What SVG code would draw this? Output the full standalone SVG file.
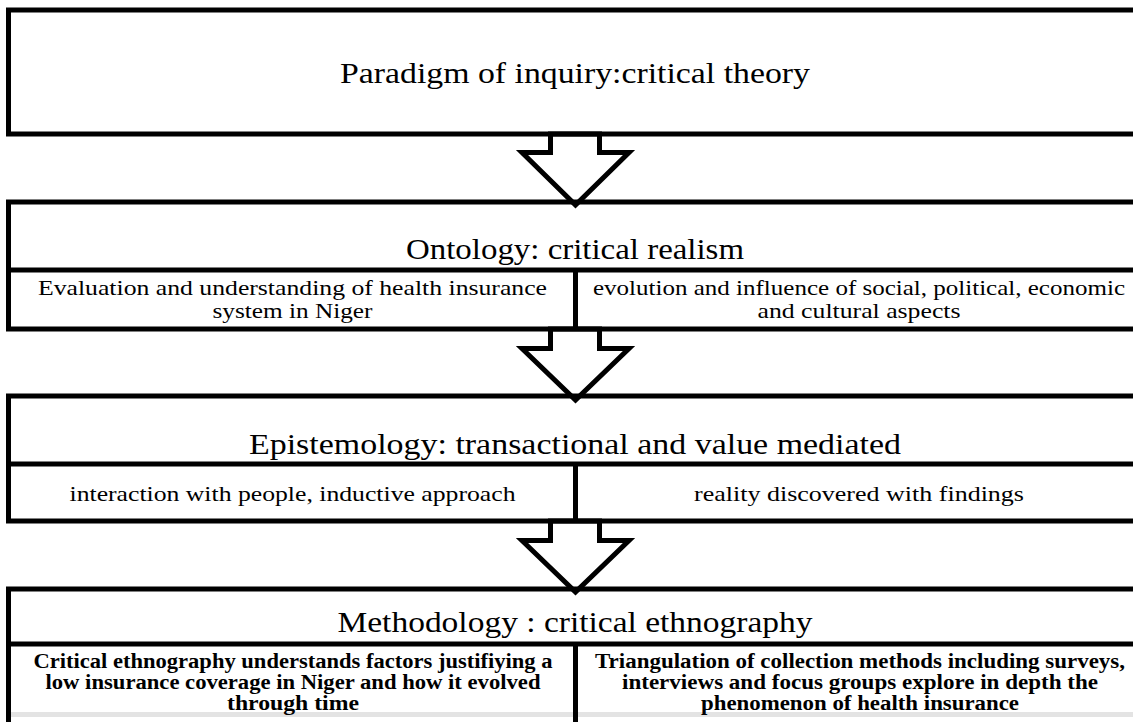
<svg xmlns="http://www.w3.org/2000/svg" width="1133" height="722" viewBox="0 0 1133 722">
  <style>
    .frame { fill: none; stroke: #000; stroke-width: 5; }
    .rule { stroke: #000; stroke-width: 5; }
    .arrow { fill: #fff; stroke: #000; stroke-width: 5; stroke-linejoin: miter; }
    .title { font-family: "Liberation Serif", serif; font-size: 30px; fill: #000; text-anchor: middle; }
    .cell { font-family: "Liberation Serif", serif; font-size: 22px; fill: #000; text-anchor: middle; }
    .bold { font-family: "Liberation Serif", serif; font-size: 20px; font-weight: bold; fill: #000; text-anchor: middle; }
  </style>
  <rect x="0" y="0" width="1133" height="722" fill="#fff"/>

  <!-- connectors: hollow block arrows between the levels -->
  <g id="connectors">
    <polygon class="arrow" points="550.5,134 550.5,152.5 522,152.5 575.5,205 629,152.5 599.5,152.5 599.5,134"/>
    <polygon class="arrow" points="550.5,329 550.5,348.5 522,348.5 575.5,400 629,348.5 599.5,348.5 599.5,329"/>
    <polygon class="arrow" points="550.5,521 550.5,540.5 522,540.5 575.5,592 629,540.5 599.5,540.5 599.5,521"/>
  </g>

  <g id="paradigm">
    <rect class="frame" x="8.5" y="10" width="1140" height="124"/>
    <text class="title" x="575" y="83" textLength="470" lengthAdjust="spacingAndGlyphs">Paradigm of inquiry:critical theory</text>
  </g>

  <g id="ontology">
    <rect class="frame" x="8.5" y="202" width="1140" height="127"/>
    <line class="rule" x1="8.5" y1="270" x2="1148" y2="270"/>
    <line class="rule" x1="575.5" y1="270" x2="575.5" y2="329"/>
    <text class="title" x="575" y="259" textLength="338" lengthAdjust="spacingAndGlyphs">Ontology: critical realism</text>
    <text class="cell" x="292.5" y="295" textLength="509" lengthAdjust="spacingAndGlyphs">Evaluation and understanding of health insurance</text>
    <text class="cell" x="292.5" y="318" textLength="160" lengthAdjust="spacingAndGlyphs">system in Niger</text>
    <text class="cell" x="859" y="295" textLength="532" lengthAdjust="spacingAndGlyphs">evolution and influence of social, political, economic</text>
    <text class="cell" x="859" y="318" textLength="203" lengthAdjust="spacingAndGlyphs">and cultural aspects</text>
  </g>

  <g id="epistemology">
    <rect class="frame" x="8.5" y="396" width="1140" height="125"/>
    <line class="rule" x1="8.5" y1="464" x2="1148" y2="464"/>
    <line class="rule" x1="575.5" y1="464" x2="575.5" y2="521"/>
    <text class="title" x="575" y="454" textLength="652" lengthAdjust="spacingAndGlyphs">Epistemology: transactional and value mediated</text>
    <text class="cell" x="292.5" y="501" textLength="446" lengthAdjust="spacingAndGlyphs">interaction with people, inductive approach</text>
    <text class="cell" x="859" y="501" textLength="330" lengthAdjust="spacingAndGlyphs">reality discovered with findings</text>
  </g>

  <g id="methodology">
    <rect x="6" y="712" width="1127" height="5" fill="#e3e3e3"/>
    <rect class="frame" x="8.5" y="589" width="1140" height="160"/>
    <line class="rule" x1="8.5" y1="644" x2="1148" y2="644"/>
    <line class="rule" x1="575.5" y1="644" x2="575.5" y2="730"/>
    <text class="title" x="575" y="632" textLength="475" lengthAdjust="spacingAndGlyphs">Methodology : critical ethnography</text>
    <text class="bold" x="293" y="668" textLength="519" lengthAdjust="spacingAndGlyphs">Critical ethnography understands factors justifiying a</text>
    <text class="bold" x="293" y="689" textLength="495" lengthAdjust="spacingAndGlyphs">low insurance coverage in Niger and how it evolved</text>
    <text class="bold" x="293" y="710" textLength="132" lengthAdjust="spacingAndGlyphs">through time</text>
    <text class="bold" x="860" y="668" textLength="530" lengthAdjust="spacingAndGlyphs">Triangulation of collection methods including surveys,</text>
    <text class="bold" x="860" y="689" textLength="476" lengthAdjust="spacingAndGlyphs">interviews and focus groups explore in depth the</text>
    <text class="bold" x="860" y="710" textLength="318" lengthAdjust="spacingAndGlyphs">phenomenon of health insurance</text>
  </g>
</svg>
